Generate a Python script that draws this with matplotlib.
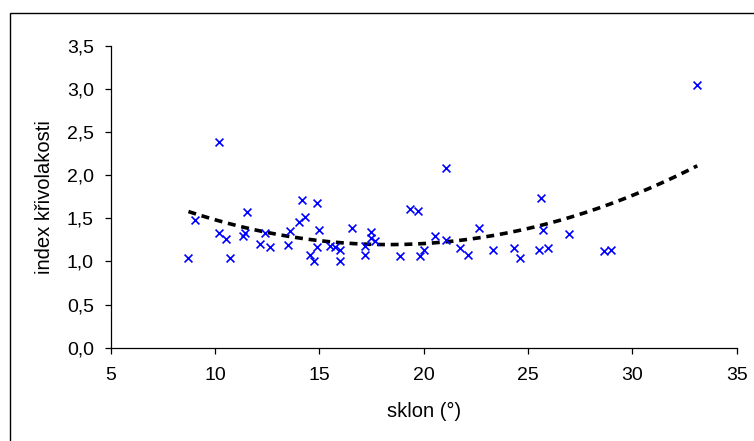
import numpy as np
import matplotlib
matplotlib.use("Agg")
import matplotlib.pyplot as plt
from matplotlib.ticker import FuncFormatter, MultipleLocator
from matplotlib.patches import Rectangle

plt.rcParams['font.family'] = ['Liberation Sans', 'DejaVu Sans']

sklon = [8.73, 9.03, 10.18, 10.18, 10.53, 10.71, 11.34, 11.45, 11.52, 12.14,
         12.40, 12.65, 13.48, 13.62, 14.01, 14.15, 14.31, 14.54, 14.77, 14.91,
         14.91, 14.98, 15.51, 15.74, 16.01, 15.97, 16.57, 17.17, 17.17, 17.47,
         17.47, 17.67, 18.89, 19.33, 19.72, 19.82, 20.00, 20.55, 21.08, 21.08,
         21.75, 22.14, 22.65, 23.34, 24.31, 24.61, 25.53, 25.60, 25.74, 25.97,
         26.96, 28.64, 28.99, 33.11]
index_kriv = [1.043, 1.475, 2.387, 1.333, 1.259, 1.043, 1.294, 1.333, 1.568, 1.205,
              1.333, 1.170, 1.186, 1.356, 1.460, 1.711, 1.514, 1.074, 1.004, 1.680,
              1.166, 1.367, 1.182, 1.163, 1.132, 1.000, 1.387, 1.182, 1.074, 1.340,
              1.275, 1.240, 1.058, 1.607, 1.587, 1.058, 1.132, 1.298, 2.078, 1.251,
              1.151, 1.074, 1.387, 1.132, 1.151, 1.043, 1.132, 1.734, 1.367, 1.151,
              1.313, 1.116, 1.132, 3.040]

x = np.array(sklon)
y = np.array(index_kriv)

fig = plt.figure(figsize=(7.54, 4.41), dpi=100)
fig.patch.set_facecolor('white')
fig.patches.append(Rectangle((9.6/754, -0.05), 1.2, 1 - 12.7/441 + 0.05,
                             transform=fig.transFigure, fill=False,
                             edgecolor='black', linewidth=1.0))

ax = fig.add_axes([110.6/754, 1 - 347.7/441, (736.7 - 110.6)/754, (347.7 - 45.7)/441])

ax.scatter(x, y, marker='x', color='#0000FF', s=32, linewidths=1.2, zorder=3)

# polynomial (2nd order) trend line
coef = np.polyfit(x, y, 2)
xs = np.linspace(x.min(), x.max(), 200)
ax.plot(xs, np.polyval(coef, xs), color='black', linewidth=2.6,
        linestyle=(0, (2.2, 1.6)), zorder=2)

ax.set_xlim(5, 35)
ax.set_ylim(0, 3.5)
ax.xaxis.set_major_locator(MultipleLocator(5))
ax.yaxis.set_major_locator(MultipleLocator(0.5))
ax.yaxis.set_major_formatter(FuncFormatter(lambda v, p: f"{v:.1f}".replace('.', ',')))
ax.xaxis.set_major_formatter(FuncFormatter(lambda v, p: f"{int(round(v))}"))

for s in ['top', 'right']:
    ax.spines[s].set_visible(False)
for s in ['left', 'bottom']:
    ax.spines[s].set_linewidth(0.9)
    ax.spines[s].set_color('black')

ax.tick_params(axis='both', direction='out', length=4, width=0.9, labelsize=14, colors='black')
ax.tick_params(axis='x', pad=10)
ax.tick_params(axis='y', pad=8)

ax.set_xlabel('sklon (°)', fontsize=14.5, labelpad=13)
ax.set_ylabel('index křivolakosti', fontsize=14.5, labelpad=9)

fig.savefig('out.png', dpi=100, facecolor='white')
